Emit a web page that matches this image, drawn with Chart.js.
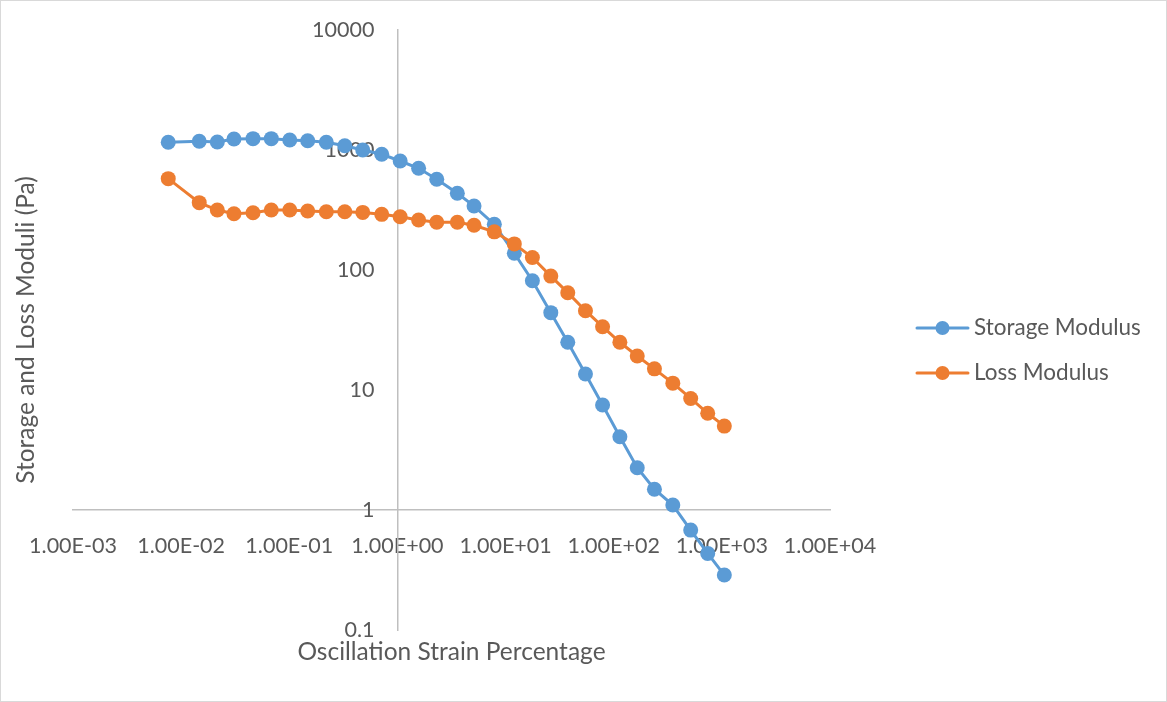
<!DOCTYPE html>
<html>
<head>
<meta charset="utf-8">
<title>Storage and Loss Moduli</title>
<script src="https://cdn.jsdelivr.net/npm/chart.js@4.4.1/dist/chart.umd.min.js"></script>
<style>
  html, body { margin: 0; padding: 0; background: #fff; }
  #modChart { position: absolute; left: 0; top: 0; }
  #frame { position: absolute; left: 0; top: 0; width: 1167px; height: 702px;
           box-sizing: border-box; border: 1px solid #d9d9d9; pointer-events: none; }
</style>
</head>
<body>
<canvas id="modChart" width="1167" height="702"></canvas>
<div id="frame"></div>
<script>
// Amplitude sweep: strain (%) against storage and loss moduli (Pa)
const strain = [0.0076, 0.0147, 0.0216, 0.0308, 0.0462, 0.0682, 0.101, 0.148, 0.220, 0.326,
                0.478, 0.716, 1.06, 1.57, 2.31, 3.58, 5.11, 7.87, 12.05, 17.7,
                26.2, 37.6, 54.8, 78.9, 114, 165, 238, 352, 515, 740, 1054];
const storageModulus = [1159, 1182, 1166, 1236, 1243, 1243, 1211, 1195, 1159, 1086,
                        1000, 921, 810, 704, 570, 436, 341, 240, 138, 81.4,
                        44.1, 25.0, 13.6, 7.5, 4.08, 2.25, 1.49, 1.10, 0.68, 0.435, 0.287];
const lossModulus = [577, 364, 316, 294, 300, 316, 316, 310, 306, 306,
                     302, 291, 278, 261, 250, 250, 236, 208, 165, 127,
                     89, 64.7, 45.8, 33.7, 25.0, 19.2, 15.0, 11.4, 8.5, 6.4, 5.0];

const xTickValues = [0.001, 0.01, 0.1, 1, 10, 100, 1000, 10000];
const xTickLabels = ['1.00E-03', '1.00E-02', '1.00E-01', '1.00E+00', '1.00E+01', '1.00E+02', '1.00E+03', '1.00E+04'];
const yTickValues = [0.1, 1, 10, 100, 1000, 10000];
const yTickLabels = ['0.1', '1', '10', '100', '1000', '10000'];

const FONT = 'Lato, "Open Sans", sans-serif';
const TEXT = '#595959';
const BLUE = '#5b9bd5';
const ORANGE = '#ed7d31';

function pairs(xs, ys) {
    return xs.map((x, i) => ({ x: x, y: ys[i] }));
}

// y tick labels sit left of the vertical axis, which crosses at strain = 1
const yLabels = {
    id: 'yLabels',
    beforeDatasetsDraw(chart) {
        const ctx = chart.ctx;
        const xs = chart.scales.x;
        const ys = chart.scales.y;
        const right = xs.getPixelForValue(1) - 23;
        ctx.save();
        ctx.fillStyle = TEXT;
        ctx.font = '21.5px ' + FONT;
        ctx.textAlign = 'right';
        ctx.textBaseline = 'middle';
        yTickValues.forEach((v, i) => {
            ctx.fillText(yTickLabels[i], right, ys.getPixelForValue(v));
        });
        ctx.restore();
    }
};

// axis titles and the line+marker legend on the right
const decor = {
    id: 'decor',
    afterDraw(chart) {
        const ctx = chart.ctx;
        const area = chart.chartArea;
        ctx.save();
        ctx.fillStyle = TEXT;
        ctx.font = '24.5px ' + FONT;
        ctx.textAlign = 'center';
        ctx.textBaseline = 'middle';
        ctx.fillText('Oscillation Strain Percentage', (area.left + area.right) / 2, 652);
        ctx.save();
        ctx.translate(26, (area.top + area.bottom) / 2);
        ctx.rotate(-Math.PI / 2);
        ctx.fillText('Storage and Loss Moduli (Pa)', 0, 0);
        ctx.restore();

        ctx.font = '22.5px ' + FONT;
        const rows = [328, 373];
        chart.data.datasets.forEach((ds, i) => {
            const y = rows[i];
            ctx.strokeStyle = ds.borderColor;
            ctx.lineWidth = 3;
            ctx.lineCap = 'round';
            ctx.beginPath();
            ctx.moveTo(917, y);
            ctx.lineTo(968, y);
            ctx.stroke();
            ctx.fillStyle = ds.borderColor;
            ctx.beginPath();
            ctx.arc(942.5, y, 7, 0, Math.PI * 2);
            ctx.fill();
            ctx.fillStyle = TEXT;
            ctx.textAlign = 'left';
            ctx.fillText(ds.label, 974, y);
        });
        ctx.restore();
    }
};

const ctx = document.getElementById('modChart').getContext('2d');
const chart = new Chart(ctx, {
    type: 'scatter',
    data: {
        datasets: [{
            label: 'Storage Modulus',
            data: pairs(strain, storageModulus),
            showLine: true,
            borderColor: BLUE,
            backgroundColor: BLUE,
            borderWidth: 3,
            pointRadius: 7.5,
            pointBorderWidth: 0,
            pointBackgroundColor: BLUE,
            order: 1
        }, {
            label: 'Loss Modulus',
            data: pairs(strain, lossModulus),
            showLine: true,
            borderColor: ORANGE,
            backgroundColor: ORANGE,
            borderWidth: 3,
            pointRadius: 7.5,
            pointBorderWidth: 0,
            pointBackgroundColor: ORANGE,
            order: 0
        }]
    },
    options: {
        responsive: false,
        animation: false,
        layout: { padding: { left: 73, right: 337, top: 30, bottom: 72 } },
        plugins: {
            legend: { display: false },
            tooltip: { enabled: false }
        },
        scales: {
            x: {
                type: 'logarithmic',
                min: 0.001,
                max: 10000,
                position: { y: 1 },
                grid: { display: false },
                border: { display: true, color: '#bfbfbf', width: 1.5 },
                afterBuildTicks: s => { s.ticks = xTickValues.map(v => ({ value: v })); },
                ticks: {
                    autoSkip: false,
                    maxRotation: 0,
                    padding: 15,
                    color: TEXT,
                    font: { family: FONT, size: 21.5 },
                    callback: (v, i) => xTickLabels[i]
                }
            },
            y: {
                type: 'logarithmic',
                min: 0.1,
                max: 10000,
                position: { x: 1 },
                grid: { display: false },
                border: { display: true, color: '#bfbfbf', width: 1.5 },
                afterBuildTicks: s => { s.ticks = yTickValues.map(v => ({ value: v })); },
                ticks: { display: false }
            }
        }
    },
    plugins: [yLabels, decor]
});
</script>
</body>
</html>
